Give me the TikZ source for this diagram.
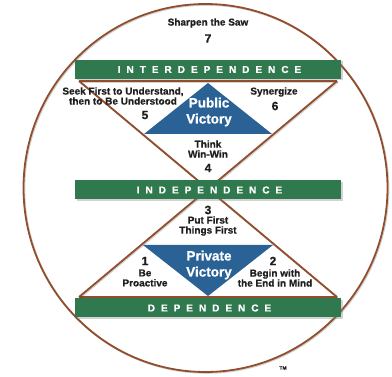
\documentclass[tikz,border=0pt]{standalone}
\usepackage{fontspec}
\setmainfont{Liberation Sans}[BoldFeatures={FakeBold=0.8}]
\newfontfamily\barfont{Liberation Sans}[LetterSpace=60, BoldFeatures={FakeBold=0.8}]
\usepackage{tikz}
\usetikzlibrary{shadows}

\definecolor{habitgreen}{RGB}{48,121,78}
\definecolor{habitblue}{RGB}{42,98,150}
\definecolor{habitbrown}{RGB}{146,78,44}
\definecolor{habitink}{RGB}{30,30,30}

\tikzset{edge/.style={habitbrown, line width=1.8pt,
  preaction={draw=black, draw opacity=.18, line width=1.8pt,
    transform canvas={shift={(.9pt,-.9pt)}}}}}
\tikzset{bar/.style={fill=habitgreen, inner sep=0pt,
  minimum width=266pt, minimum height=19pt, text=white,
  font=\barfont\bfseries\fontsize{10}{10}\selectfont,
  drop shadow={shadow xshift=1.5pt, shadow yshift=-1.5pt, opacity=.35}}}
\tikzset{habit/.style={text=habitink, inner sep=0pt, align=center,
  font=\bfseries\fontsize{10}{10}\selectfont}}
\tikzset{num/.style={text=habitink, inner sep=0pt,
  font=\bfseries\fontsize{12}{12}\selectfont}}
\tikzset{win/.style={text=white, inner sep=0pt, align=center,
  font=\bfseries\fontsize{13.5}{16}\selectfont}}

\begin{document}
\begin{tikzpicture}[x=1pt, y=-1pt]
\useasboundingbox (0,0) rectangle (392,377);

% outer ring
\draw[edge] (205.5,188) ellipse [x radius=182, y radius=184];

% corners of the two triangles
\coordinate (tl) at (79,81);
\coordinate (tr) at (337,81);
\coordinate (bl) at (79,297);
\coordinate (br) at (337,297);

% victories
\fill[habitblue] (208,83) -- (272,134) -- (144,134) -- cycle;
\fill[habitblue] (143,245) -- (273,245) -- (208,296) -- cycle;

\draw[edge] (tl) -- (tr);
\draw[edge] (bl) -- (br);
\draw[edge] (tl) -- (br);
\draw[edge] (tr) -- (bl);

% paradigm bars
\node[bar] (inter) at (208,69.5) {\hspace*{3pt}INTERDEPENDENCE};
\node[bar] (indep) at (208,190) {\hspace*{3pt}INDEPENDENCE};
\node[bar] (dep) at (208,308) {\hspace*{3pt}DEPENDENCE};

% habits
\node[habit] (saw) at (208,23) {Sharpen the Saw};
\node[num] (n7) at (208,38.5) {7};
\node[habit] (seek) at (123,96) {Seek First to Understand,\\then to Be Understood};
\node[num] (n5) at (145,115) {5};
\node[habit] (syn) at (274,92) {Synergize};
\node[num] (n6) at (275,106) {6};
\node[win] (public) at (209,112) {Public\\Victory};
\node[habit] (think) at (208,149) {Think\\Win-Win};
\node[num] (n4) at (208,168) {4};
\node[num] (n3) at (208,210) {3};
\node[habit] (first) at (208,226) {Put First\\Things First};
\node[win] (private) at (209,265) {Private\\Victory};
\node[num] (n1) at (145,261) {1};
\node[habit] (pro) at (145,278) {Be\\Proactive};
\node[num] (n2) at (273,261) {2};
\node[habit] (begin) at (275,278) {Begin with\\the End in Mind};

\node[text=habitink, inner sep=0pt, font=\bfseries\fontsize{5}{5}\selectfont] (tm) at (283,368) {TM};
\end{tikzpicture}
\end{document}
